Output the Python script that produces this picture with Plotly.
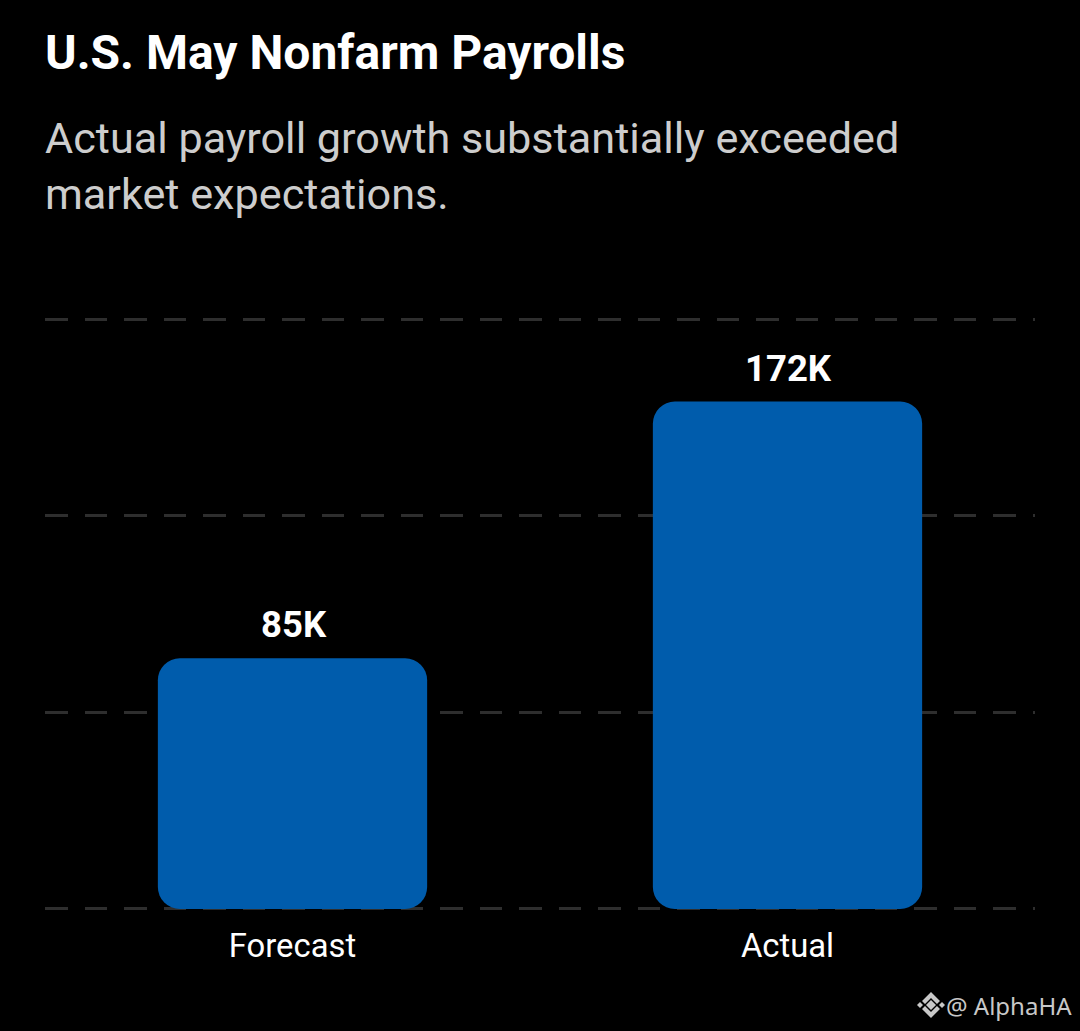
import plotly.graph_objects as go

WIDTH = 1080
HEIGHT = 1031

categories = ['Forecast', 'Actual']
values = [85, 172]
value_labels = ['85K', '172K']
grid_values = [0, 66.67, 133.33, 200]

title = 'U.S. May Nonfarm Payrolls'
subtitle = 'Actual payroll growth substantially exceeded<br>market expectations.'
credit = '@ AlphaHA'

BAR_COLOR = '#005cac'

# plot area in page pixels, paper coordinates are relative to it
LEFT = 45
RIGHT = 1035
TOP = 317
BOTTOM = 911


def px(x):
    return (x - LEFT) / (RIGHT - LEFT)


def py(y):
    return (BOTTOM - y) / (BOTTOM - TOP)


def path(points):
    return 'M ' + ' L '.join('{:.5f} {:.5f}'.format(px(x), py(y)) for x, y in points) + ' Z'


fig = go.Figure()
# an explicit base makes plotly round both ends of the bar
fig.add_trace(go.Bar(
    x=categories,
    y=values,
    base=[0, 0],
    width=0.544,
    marker=dict(color=BAR_COLOR, cornerradius=22, line_width=0),
    showlegend=False,
))

fig.update_layout(
    autosize=False,
    width=WIDTH,
    height=HEIGHT,
    margin=dict(l=LEFT, r=WIDTH - RIGHT, t=TOP, b=HEIGHT - BOTTOM, pad=0),
    paper_bgcolor='black',
    plot_bgcolor='black',
    font=dict(family='Roboto', color='white'),
    xaxis=dict(
        showgrid=False,
        showline=False,
        zeroline=False,
        ticks='',
        ticklabelstandoff=12,
        tickfont=dict(size=32.8, color='white'),
    ),
    yaxis=dict(
        # a little room past 0 and 200, plotly drops gridlines lying on the range ends
        range=[-0.68, 200.68],
        autorange=False,
        tickvals=grid_values,
        showticklabels=False,
        showline=False,
        zeroline=False,
        ticks='',
        showgrid=True,
        gridcolor='#2e2e2e',
        gridwidth=2.5,
        griddash='22.5px,17px',
    ),
)

for cat, val, label in zip(categories, values, value_labels):
    fig.add_annotation(x=cat, y=val, text=label, showarrow=False, yanchor='bottom', yshift=10, xshift=1,
                       font=dict(size=36.5, weight=700, color='white'))

fig.add_annotation(xref='paper', yref='paper', x=px(46), y=py(52), text=title, showarrow=False,
                   xanchor='left', yanchor='middle', xshift=-3, font=dict(size=48, weight=700, color='white'))
fig.add_annotation(xref='paper', yref='paper', x=px(46), y=py(166), text=subtitle, showarrow=False, align='left',
                   xanchor='left', yanchor='middle', xshift=-3, font=dict(size=43.2, color='#cdcdcd'))
fig.add_annotation(xref='paper', yref='paper', x=px(1072), y=py(1005), text=credit, showarrow=False,
                   xanchor='right', yanchor='middle', xshift=2, font=dict(family='Noto Sans', size=24, color='#c8c8c8'))

# logo next to the credit
logo_parts = [
    [(931, 1000), (936, 1005), (931, 1010), (926, 1005)],
    [(920, 1002), (923, 1005), (920, 1008), (917, 1005)],
    [(942, 1002), (945, 1005), (942, 1008), (939, 1005)],
    [(931, 992), (940, 1001), (937, 1004), (931, 998), (925, 1004), (922, 1001)],
    [(931, 1018), (940, 1009), (937, 1006), (931, 1012), (925, 1006), (922, 1009)],
]
for part in logo_parts:
    fig.add_shape(type='path', xref='paper', yref='paper', path=path(part), fillcolor='#c8c8c8', line_width=0)

fig.write_html('out.html', config=dict(displayModeBar=False), post_script="document.body.style.margin='0';")
